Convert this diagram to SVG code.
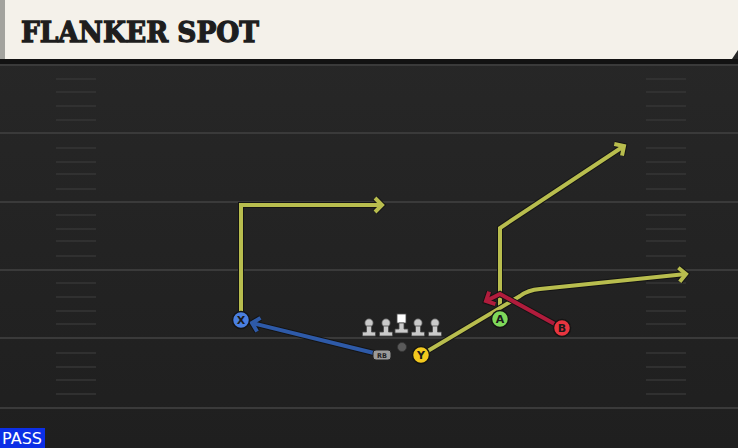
<svg xmlns="http://www.w3.org/2000/svg" width="738" height="448" viewBox="0 0 738 448">
<style>
.yl{stroke:#3a3a3a;stroke-width:2}
.hs{stroke:#363636;stroke-width:1.5}
.ol{fill:none;stroke:#141414;stroke-width:6;stroke-linejoin:miter}
.ry{fill:none;stroke:#b8bd4e;stroke-width:4;stroke-linejoin:miter}
.rr{fill:none;stroke:#b01c3c;stroke-width:4;stroke-linejoin:miter}
.rb{fill:none;stroke:#2e5aa8;stroke-width:4;stroke-linejoin:miter}
.lbl{font-family:"DejaVu Sans",sans-serif;font-weight:bold;font-size:11px;fill:#1a1a1a;text-anchor:middle}
.ln{fill:#cacaca;stroke:#4a4a4a;stroke-width:0.8}
</style>
<defs>
<linearGradient id="bg" x1="0" y1="0" x2="0" y2="1">
<stop offset="0" stop-color="#282828"/>
<stop offset="1" stop-color="#1f1f1f"/>
</linearGradient>
<marker id="mo" markerUnits="userSpaceOnUse" viewBox="-12 -12 24 24" markerWidth="24" markerHeight="24" refX="0" refY="0" orient="auto"><path d="M-7,-7 L0,0 L-7,7" fill="none" stroke="#141414" stroke-width="6"/></marker>
<marker id="my" markerUnits="userSpaceOnUse" viewBox="-12 -12 24 24" markerWidth="24" markerHeight="24" refX="0" refY="0" orient="auto"><path d="M-7,-7 L0,0 L-7,7" fill="none" stroke="#b8bd4e" stroke-width="4"/></marker>
<marker id="mr" markerUnits="userSpaceOnUse" viewBox="-12 -12 24 24" markerWidth="24" markerHeight="24" refX="0" refY="0" orient="auto"><path d="M-7,-7 L0,0 L-7,7" fill="none" stroke="#b01c3c" stroke-width="4"/></marker>
<marker id="mb" markerUnits="userSpaceOnUse" viewBox="-12 -12 24 24" markerWidth="24" markerHeight="24" refX="0" refY="0" orient="auto"><path d="M-7,-7 L0,0 L-7,7" fill="none" stroke="#2e5aa8" stroke-width="4"/></marker>
</defs>
<rect width="738" height="448" fill="url(#bg)"/>
<g id="field">
<line class="yl" x1="0" y1="65" x2="738" y2="65"/>
<line class="yl" x1="0" y1="133" x2="738" y2="133"/>
<line class="yl" x1="0" y1="202" x2="738" y2="202"/>
<line class="yl" x1="0" y1="270" x2="738" y2="270"/>
<line class="yl" x1="0" y1="338" x2="738" y2="338"/>
<line class="yl" x1="0" y1="408" x2="738" y2="408"/>
<g id="hashL">
<line class="hs" x1="56" y1="79" x2="96" y2="79"/><line class="hs" x1="56" y1="92" x2="96" y2="92"/><line class="hs" x1="56" y1="106" x2="96" y2="106"/><line class="hs" x1="56" y1="120" x2="96" y2="120"/>
<line class="hs" x1="56" y1="148" x2="96" y2="148"/><line class="hs" x1="56" y1="162" x2="96" y2="162"/><line class="hs" x1="56" y1="174" x2="96" y2="174"/><line class="hs" x1="56" y1="189" x2="96" y2="189"/>
<line class="hs" x1="56" y1="215" x2="96" y2="215"/><line class="hs" x1="56" y1="229" x2="96" y2="229"/><line class="hs" x1="56" y1="241" x2="96" y2="241"/><line class="hs" x1="56" y1="256" x2="96" y2="256"/>
<line class="hs" x1="56" y1="283" x2="96" y2="283"/><line class="hs" x1="56" y1="297" x2="96" y2="297"/><line class="hs" x1="56" y1="311" x2="96" y2="311"/><line class="hs" x1="56" y1="324" x2="96" y2="324"/>
<line class="hs" x1="56" y1="353" x2="96" y2="353"/><line class="hs" x1="56" y1="367" x2="96" y2="367"/><line class="hs" x1="56" y1="380" x2="96" y2="380"/><line class="hs" x1="56" y1="394" x2="96" y2="394"/>
</g>
<g id="hashR">
<line class="hs" x1="646" y1="79" x2="686" y2="79"/><line class="hs" x1="646" y1="92" x2="686" y2="92"/><line class="hs" x1="646" y1="106" x2="686" y2="106"/><line class="hs" x1="646" y1="120" x2="686" y2="120"/>
<line class="hs" x1="646" y1="148" x2="686" y2="148"/><line class="hs" x1="646" y1="162" x2="686" y2="162"/><line class="hs" x1="646" y1="174" x2="686" y2="174"/><line class="hs" x1="646" y1="189" x2="686" y2="189"/>
<line class="hs" x1="646" y1="215" x2="686" y2="215"/><line class="hs" x1="646" y1="229" x2="686" y2="229"/><line class="hs" x1="646" y1="241" x2="686" y2="241"/><line class="hs" x1="646" y1="256" x2="686" y2="256"/>
<line class="hs" x1="646" y1="283" x2="686" y2="283"/><line class="hs" x1="646" y1="297" x2="686" y2="297"/><line class="hs" x1="646" y1="311" x2="686" y2="311"/><line class="hs" x1="646" y1="324" x2="686" y2="324"/>
<line class="hs" x1="646" y1="353" x2="686" y2="353"/><line class="hs" x1="646" y1="367" x2="686" y2="367"/><line class="hs" x1="646" y1="380" x2="686" y2="380"/><line class="hs" x1="646" y1="394" x2="686" y2="394"/>
</g>
</g>
<g id="header">
<rect x="0" y="59" width="738" height="5" fill="#121212"/>
<path d="M0,0 H738 V50 L732,59 H0 Z" fill="#f4f1ea"/>
<rect x="0" y="0" width="5" height="59" fill="#a3a39e"/>
<text x="21" y="42" font-family="'DejaVu Serif',serif" font-weight="bold" font-size="28" fill="#1e1e1e" stroke="#1e1e1e" stroke-width="1.3" textLength="238" lengthAdjust="spacingAndGlyphs">FLANKER SPOT</text>
</g>
<g id="connectors">
<path class="ol" d="M241,320 V205 H382" marker-end="url(#mo)"/>
<path class="ry" d="M241,320 V205 H382" marker-end="url(#my)"/>
<path class="ol" d="M500,319 V228 L624,146" marker-end="url(#mo)"/>
<path class="ry" d="M500,319 V228 L624,146" marker-end="url(#my)"/>
<path class="ol" d="M421,355 L520,296 Q528,290 540,289 L686,274" marker-end="url(#mo)"/>
<path class="ry" d="M421,355 L520,296 Q528,290 540,289 L686,274" marker-end="url(#my)"/>
<path class="ol" d="M562,328 L500,294 L486,301" marker-end="url(#mo)"/>
<path class="rr" d="M562,328 L500,294 L486,301" marker-end="url(#mr)"/>
<path class="ol" d="M378,354 L252,323" marker-end="url(#mo)"/>
<path class="rb" d="M378,354 L252,323" marker-end="url(#mb)"/>
</g>
<g id="line">
<g id="LT"><circle class="ln" cx="369" cy="323" r="4.2"/><path class="ln" d="M366.5,326 h5 v6 h4 v4 h-13 v-4 h4 z"/></g>
<g id="LG"><circle class="ln" cx="386" cy="323" r="4.2"/><path class="ln" d="M383.5,326 h5 v6 h4 v4 h-13 v-4 h4 z"/></g>
<g id="C"><rect x="397" y="314" width="9" height="9" fill="#ffffff" stroke="#4a4a4a" stroke-width="0.8"/><path class="ln" d="M399,323 h5 v6 h4 v4 h-13 v-4 h4 z"/></g>
<g id="RG"><circle class="ln" cx="418" cy="323" r="4.2"/><path class="ln" d="M415.5,326 h5 v6 h4 v4 h-13 v-4 h4 z"/></g>
<g id="RT"><circle class="ln" cx="435" cy="323" r="4.2"/><path class="ln" d="M432.5,326 h5 v6 h4 v4 h-13 v-4 h4 z"/></g>
</g>
<g id="QB"><circle cx="402" cy="347" r="4.5" fill="#5a5a5a" stroke="#333" stroke-width="0.8"/></g>
<g id="RB"><rect x="373" y="350" width="18" height="10" rx="3" fill="#9a9a9a" stroke="#222" stroke-width="1"/><text x="382" y="358" font-family="'DejaVu Sans',sans-serif" font-size="6.5" font-weight="bold" fill="#222" text-anchor="middle">RB</text></g>
<g id="X"><circle cx="241" cy="320" r="8.5" fill="#4a7fe0" stroke="#141414" stroke-width="1.5"/><text class="lbl" x="241" y="324">X</text></g>
<g id="Y"><circle cx="421" cy="355" r="8.5" fill="#f2c81e" stroke="#141414" stroke-width="1.5"/><text class="lbl" x="421" y="359">Y</text></g>
<g id="A"><circle cx="500" cy="319" r="8.5" fill="#7fd95a" stroke="#141414" stroke-width="1.5"/><text class="lbl" x="500" y="323">A</text></g>
<g id="B"><circle cx="562" cy="328" r="8.5" fill="#e8353f" stroke="#141414" stroke-width="1.5"/><text class="lbl" x="562" y="332">B</text></g>
<g id="pass"><rect x="0" y="428" width="45" height="20" fill="#0c2fe6"/><text x="22" y="444" font-family="'DejaVu Sans',sans-serif" font-size="15" fill="#ffffff" text-anchor="middle" textLength="40" lengthAdjust="spacingAndGlyphs">PASS</text></g>
</svg>
